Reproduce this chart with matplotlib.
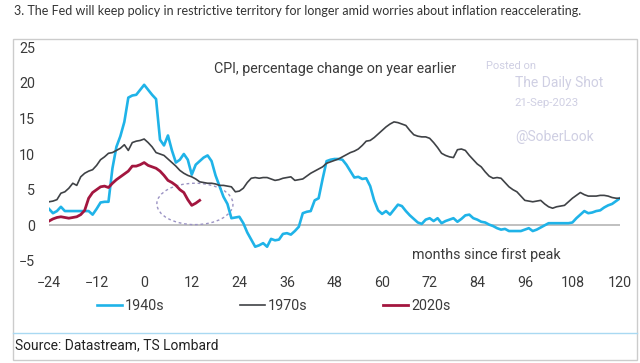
import numpy as np
import matplotlib.pyplot as plt
from matplotlib.patches import Ellipse, Rectangle
from matplotlib.lines import Line2D

# months since first peak
months = np.arange(-24, 121)
months_2020s = np.arange(-24, 15)

cpi_1940s = [
    2.3, 1.7, 2.0, 2.6, 2.0, 2.0, 2.0, 2.0, 2.0, 2.0, 2.0, 1.5,      # -24..-13
    2.3, 3.2, 3.3, 3.3, 8.0, 11.0, 12.5, 14.5, 17.9, 18.2, 18.3, 19.0,  # -12..-1
    19.7, 19.0, 18.3, 17.7, 12.0, 11.2, 12.6, 10.5, 8.8, 9.2, 10.0, 9.2,  # 0..11
    7.1, 8.5, 9.0, 9.5, 9.8, 9.0, 7.0, 5.5, 4.0, 3.0, 1.0, 1.1,       # 12..23
    1.2, 0.3, -1.0, -2.0, -3.0, -2.8, -2.5, -3.0, -1.9, -2.1, -2.0, -1.2,  # 24..35
    -1.1, -1.3, -0.8, -0.2, 1.7, 1.9, 2.0, 3.5, 3.8, 6.5, 9.0, 9.2,   # 36..47
    9.3, 9.3, 9.2, 8.5, 7.6, 6.7, 6.8, 6.5, 6.6, 5.5, 3.5, 2.1,       # 48..59
    1.6, 2.0, 1.5, 2.2, 2.9, 2.7, 2.0, 1.4, 0.9, 0.4, 0.2, 0.8,       # 60..71
    1.0, 0.6, 1.0, 0.3, 0.6, 0.8, 1.0, 0.5, 0.9, 1.4, 1.5, 1.0,       # 72..83
    0.8, 0.5, 0.4, 0.1, -0.1, -0.4, -0.6, -0.5, -0.8, -0.8, -0.8, -0.8,  # 84..95
    -0.6, -0.4, -0.8, -0.6, -0.3, 0.0, 0.3, 0.3, 0.3, 0.3, 0.3, 0.3,  # 96..107
    0.4, 1.0, 1.5, 2.0, 1.7, 1.8, 2.0, 2.1, 2.5, 2.8, 3.0, 3.4,       # 108..119
    3.8,                                                              # 120
]

cpi_1970s = [
    3.3, 3.4, 3.6, 4.5, 4.7, 5.2, 5.9, 5.6, 6.8, 7.3, 7.6, 7.8,       # -24..-13
    8.4, 9.2, 9.6, 10.1, 10.2, 10.5, 10.8, 11.3, 10.5, 11.6, 11.8, 11.9,  # -12..-1
    12.1, 11.6, 11.0, 10.2, 10.0, 9.8, 9.3, 8.8, 8.3, 7.7, 7.3, 7.0,  # 0..11
    6.8, 6.5, 6.1, 6.0, 5.9, 5.9, 5.8, 5.6, 5.6, 5.5, 5.4, 4.7,       # 12..23
    4.8, 5.2, 6.0, 6.6, 6.7, 6.6, 6.7, 6.7, 6.5, 6.3, 6.4, 6.6,       # 24..35
    6.7, 6.8, 6.3, 6.4, 6.5, 6.9, 7.3, 7.6, 7.9, 8.2, 8.7, 8.9,       # 36..47
    9.1, 9.3, 9.6, 9.9, 10.2, 10.4, 10.7, 11.2, 11.8, 11.9, 12.3, 12.8,  # 48..59
    13.3, 13.8, 14.2, 14.5, 14.4, 14.2, 14.0, 13.3, 12.7, 12.5, 12.4, 12.4,  # 60..71
    12.2, 11.6, 10.9, 10.1, 9.8, 9.6, 9.5, 10.6, 10.7, 10.5, 9.8, 9.2,  # 72..83
    8.6, 8.2, 7.5, 6.9, 6.6, 6.7, 6.6, 6.0, 5.4, 5.0, 4.7, 4.1,       # 84..95
    3.5, 3.4, 3.3, 3.4, 3.5, 3.0, 2.6, 2.4, 2.6, 2.7, 2.8, 3.3,       # 96..107
    3.8, 4.2, 4.6, 4.3, 4.1, 4.1, 4.1, 4.2, 4.2, 4.1, 3.9, 3.8,       # 108..119
    3.8,                                                              # 120
]

cpi_2020s = [
    0.6, 0.9, 1.1, 1.2, 1.1, 1.0, 1.1, 1.2, 1.5, 2.1, 3.8, 4.6,       # -24..-13
    5.0, 5.4, 5.5, 5.3, 5.9, 6.4, 6.8, 7.2, 7.6, 8.3, 8.3, 8.5,       # -12..-1
    8.8, 8.4, 8.2, 8.0, 7.6, 7.0, 6.3, 6.0, 5.6, 5.0, 4.6, 3.6,       # 0..11
    2.8, 3.1, 3.5,                                                    # 12..14
]

x_ticks = np.arange(-24, 121, 12)
y_ticks = np.arange(-5, 26, 5)

BLUE = '#1fb3e8'
DARK = '#3f4246'
RED = '#a3163f'
TXT = '#3a3a3a'
WM = '#cfcfe3'
FS = 10.3

W, H = 640, 363
fig = plt.figure(figsize=(W / 100, H / 100), dpi=100)
plt.rcParams['font.family'] = ['Roboto', 'DejaVu Sans']

# page title (above the chart card)
fig.text(14 / W, 1 - 11 / H,
         '3. The Fed will keep policy in restrictive territory for longer amid worries about inflation reaccelerating.',
         family='Lato', fontsize=9.0, color='#333333', va='center', ha='left')

# chart card frame and source separator
fig.patches.append(Rectangle((13 / W, 1 - 360 / H), 624 / W, 321 / H,
                             transform=fig.transFigure, fill=False,
                             edgecolor='#cccccc', lw=1))
fig.lines.append(Line2D([13 / W, 637 / W], [1 - 333 / H, 1 - 333 / H],
                        transform=fig.transFigure, color='#a9d9f2', lw=1))
fig.text(15 / W, 1 - 345 / H, 'Source: Datastream, TS Lombard',
         fontsize=10, color='#222222', va='center', ha='left')

# plot area: x=-24 at px 49, x=120 at px 620; y=25 at py 47, y=-5 at py 261
ax = fig.add_axes([49 / W, 1 - 261 / H, (620 - 49) / W, (261 - 47) / H])
ax.set_xlim(-24, 120)
ax.set_ylim(-5, 25)
for s in ax.spines.values():
    s.set_visible(False)
ax.set_xticks(x_ticks)
ax.set_yticks(y_ticks)
ax.tick_params(length=0, labelsize=FS, labelcolor=TXT)
ax.tick_params(axis='x', pad=11)
ax.tick_params(axis='y', pad=10)
ax.axhline(0, color='#b5b5b5', lw=1.2, zorder=1)

l1, = ax.plot(months, cpi_1940s, color=BLUE, lw=1.9, label='1940s', zorder=3)
l2, = ax.plot(months, cpi_1970s, color=DARK, lw=1.2, label='1970s', zorder=4)
l3, = ax.plot(months_2020s, cpi_2020s, color=RED, lw=2.0, label='2020s', zorder=5)

ax.add_patch(Ellipse((12.8, 3.0), 19.2, 5.8, fill=False, edgecolor='#9b93c4',
                     ls=(0, (2, 2)), lw=1, zorder=2))

ax.text(17.5, 21.9, 'CPI, percentage change on year earlier',
        fontsize=FS, color=TXT, va='center', ha='left')
ax.text(67.5, -4.2, 'months since first peak',
        fontsize=FS, color=TXT, va='center', ha='left')

# watermark
ax.text(86.3, 22.4, 'Posted on', fontsize=8, color=WM, va='center')
ax.text(93.5, 19.9, 'The Daily Shot', fontsize=10, color=WM, va='center')
ax.text(93.5, 17.1, '21-Sep-2023', fontsize=8.2, color=WM, va='center')
ax.text(93.5, 12.4, '@SoberLook', fontsize=10, color=WM, va='center')

fig.legend(handles=[l1, l2, l3], loc='center', ncol=3,
           bbox_to_anchor=(273.5 / W, 1 - 306 / H), frameon=False,
           fontsize=FS, handlelength=1.75, handletextpad=0.2,
           columnspacing=5.3, labelcolor=TXT)

fig.savefig('out.png', dpi=100, facecolor='white')
